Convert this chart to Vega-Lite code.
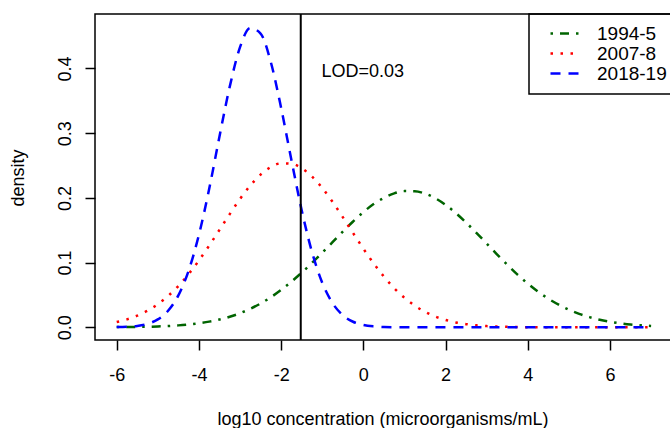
{
  "$schema": "https://vega.github.io/schema/vega-lite/v6.json",
  "width": 577,
  "height": 326,
  "padding": {"left": 95, "top": 14, "right": -2, "bottom": 88},
  "autosize": {"type": "none"},
  "background": "white",
  "config": {
    "font": "Liberation Sans",
    "view": {"stroke": "black", "strokeWidth": 1.5},
    "axis": {
      "domain": false,
      "grid": false,
      "tickColor": "black",
      "tickWidth": 1.5,
      "tickSize": 10,
      "labelFontSize": 18,
      "labelColor": "black",
      "titleFontSize": 18,
      "titleFontWeight": "normal",
      "titleColor": "black"
    },
    "legend": {
      "orient": "none",
      "legendX": 434,
      "legendY": 0,
      "strokeColor": "black",
      "strokeWidth": 1.5,
      "padding": 10,
      "symbolOffset": 17,
      "symbolType": "M-3,0H3",
      "symbolSize": 100,
      "symbolStrokeWidth": 2.5,
      "labelFontSize": 19,
      "labelColor": "black",
      "labelOffset": 22,
      "rowPadding": -2
    }
  },
  "data": {
    "values": [
      {"x": -6, "density": 0.0003, "series": "1994-5"},
      {"x": -5.75, "density": 0.0004, "series": "1994-5"},
      {"x": -5.5, "density": 0.0006, "series": "1994-5"},
      {"x": -5.25, "density": 0.0009, "series": "1994-5"},
      {"x": -5, "density": 0.0013, "series": "1994-5"},
      {"x": -4.75, "density": 0.002, "series": "1994-5"},
      {"x": -4.5, "density": 0.003, "series": "1994-5"},
      {"x": -4.25, "density": 0.0044, "series": "1994-5"},
      {"x": -4, "density": 0.0063, "series": "1994-5"},
      {"x": -3.75, "density": 0.0088, "series": "1994-5"},
      {"x": -3.5, "density": 0.012, "series": "1994-5"},
      {"x": -3.25, "density": 0.0163, "series": "1994-5"},
      {"x": -3, "density": 0.0218, "series": "1994-5"},
      {"x": -2.75, "density": 0.0286, "series": "1994-5"},
      {"x": -2.5, "density": 0.0368, "series": "1994-5"},
      {"x": -2.25, "density": 0.0465, "series": "1994-5"},
      {"x": -2, "density": 0.0578, "series": "1994-5"},
      {"x": -1.75, "density": 0.0705, "series": "1994-5"},
      {"x": -1.5, "density": 0.0845, "series": "1994-5"},
      {"x": -1.25, "density": 0.0995, "series": "1994-5"},
      {"x": -1, "density": 0.1152, "series": "1994-5"},
      {"x": -0.75, "density": 0.1315, "series": "1994-5"},
      {"x": -0.5, "density": 0.148, "series": "1994-5"},
      {"x": -0.25, "density": 0.1635, "series": "1994-5"},
      {"x": 0, "density": 0.178, "series": "1994-5"},
      {"x": 0.25, "density": 0.1905, "series": "1994-5"},
      {"x": 0.5, "density": 0.2, "series": "1994-5"},
      {"x": 0.75, "density": 0.207, "series": "1994-5"},
      {"x": 1, "density": 0.2105, "series": "1994-5"},
      {"x": 1.25, "density": 0.2103, "series": "1994-5"},
      {"x": 1.5, "density": 0.2066, "series": "1994-5"},
      {"x": 1.75, "density": 0.1995, "series": "1994-5"},
      {"x": 2, "density": 0.1893, "series": "1994-5"},
      {"x": 2.25, "density": 0.1765, "series": "1994-5"},
      {"x": 2.5, "density": 0.1618, "series": "1994-5"},
      {"x": 2.75, "density": 0.146, "series": "1994-5"},
      {"x": 3, "density": 0.1295, "series": "1994-5"},
      {"x": 3.25, "density": 0.1128, "series": "1994-5"},
      {"x": 3.5, "density": 0.0968, "series": "1994-5"},
      {"x": 3.75, "density": 0.0815, "series": "1994-5"},
      {"x": 4, "density": 0.0675, "series": "1994-5"},
      {"x": 4.25, "density": 0.055, "series": "1994-5"},
      {"x": 4.5, "density": 0.0442, "series": "1994-5"},
      {"x": 4.75, "density": 0.035, "series": "1994-5"},
      {"x": 5, "density": 0.0272, "series": "1994-5"},
      {"x": 5.25, "density": 0.0208, "series": "1994-5"},
      {"x": 5.5, "density": 0.0157, "series": "1994-5"},
      {"x": 5.75, "density": 0.0117, "series": "1994-5"},
      {"x": 6, "density": 0.0086, "series": "1994-5"},
      {"x": 6.25, "density": 0.0062, "series": "1994-5"},
      {"x": 6.5, "density": 0.0044, "series": "1994-5"},
      {"x": 6.75, "density": 0.0031, "series": "1994-5"},
      {"x": 7, "density": 0.0021, "series": "1994-5"},

      {"x": -6, "density": 0.0082, "series": "2007-8"},
      {"x": -5.75, "density": 0.0123, "series": "2007-8"},
      {"x": -5.5, "density": 0.018, "series": "2007-8"},
      {"x": -5.25, "density": 0.0257, "series": "2007-8"},
      {"x": -5, "density": 0.0357, "series": "2007-8"},
      {"x": -4.75, "density": 0.0484, "series": "2007-8"},
      {"x": -4.5, "density": 0.0639, "series": "2007-8"},
      {"x": -4.25, "density": 0.0823, "series": "2007-8"},
      {"x": -4, "density": 0.1033, "series": "2007-8"},
      {"x": -3.75, "density": 0.1263, "series": "2007-8"},
      {"x": -3.5, "density": 0.1506, "series": "2007-8"},
      {"x": -3.25, "density": 0.175, "series": "2007-8"},
      {"x": -3, "density": 0.1984, "series": "2007-8"},
      {"x": -2.75, "density": 0.2192, "series": "2007-8"},
      {"x": -2.5, "density": 0.236, "series": "2007-8"},
      {"x": -2.25, "density": 0.2477, "series": "2007-8"},
      {"x": -2, "density": 0.2535, "series": "2007-8"},
      {"x": -1.75, "density": 0.2528, "series": "2007-8"},
      {"x": -1.5, "density": 0.2458, "series": "2007-8"},
      {"x": -1.25, "density": 0.233, "series": "2007-8"},
      {"x": -1, "density": 0.2153, "series": "2007-8"},
      {"x": -0.75, "density": 0.1939, "series": "2007-8"},
      {"x": -0.5, "density": 0.1702, "series": "2007-8"},
      {"x": -0.25, "density": 0.1457, "series": "2007-8"},
      {"x": 0, "density": 0.1216, "series": "2007-8"},
      {"x": 0.25, "density": 0.0989, "series": "2007-8"},
      {"x": 0.5, "density": 0.0784, "series": "2007-8"},
      {"x": 0.75, "density": 0.0605, "series": "2007-8"},
      {"x": 1, "density": 0.0456, "series": "2007-8"},
      {"x": 1.25, "density": 0.0335, "series": "2007-8"},
      {"x": 1.5, "density": 0.024, "series": "2007-8"},
      {"x": 1.75, "density": 0.0167, "series": "2007-8"},
      {"x": 2, "density": 0.0114, "series": "2007-8"},
      {"x": 2.25, "density": 0.0075, "series": "2007-8"},
      {"x": 2.5, "density": 0.0049, "series": "2007-8"},
      {"x": 2.75, "density": 0.0031, "series": "2007-8"},
      {"x": 3, "density": 0.0019, "series": "2007-8"},
      {"x": 3.25, "density": 0.0011, "series": "2007-8"},
      {"x": 3.5, "density": 0.0007, "series": "2007-8"},
      {"x": 3.75, "density": 0.0004, "series": "2007-8"},
      {"x": 4, "density": 0.0002, "series": "2007-8"},
      {"x": 4.5, "density": 0.0001, "series": "2007-8"},
      {"x": 5, "density": 0, "series": "2007-8"},
      {"x": 5.5, "density": 0, "series": "2007-8"},
      {"x": 6, "density": 0, "series": "2007-8"},
      {"x": 6.5, "density": 0, "series": "2007-8"},
      {"x": 7, "density": 0, "series": "2007-8"},

      {"x": -6, "density": 0.0003, "series": "2018-19"},
      {"x": -5.75, "density": 0.0008, "series": "2018-19"},
      {"x": -5.5, "density": 0.0021, "series": "2018-19"},
      {"x": -5.25, "density": 0.0053, "series": "2018-19"},
      {"x": -5, "density": 0.0122, "series": "2018-19"},
      {"x": -4.75, "density": 0.0256, "series": "2018-19"},
      {"x": -4.5, "density": 0.0494, "series": "2018-19"},
      {"x": -4.25, "density": 0.0877, "series": "2018-19"},
      {"x": -4, "density": 0.143, "series": "2018-19"},
      {"x": -3.75, "density": 0.214, "series": "2018-19"},
      {"x": -3.5, "density": 0.295, "series": "2018-19"},
      {"x": -3.25, "density": 0.372, "series": "2018-19"},
      {"x": -3, "density": 0.433, "series": "2018-19"},
      {"x": -2.75, "density": 0.4625, "series": "2018-19"},
      {"x": -2.5, "density": 0.454, "series": "2018-19"},
      {"x": -2.25, "density": 0.4095, "series": "2018-19"},
      {"x": -2, "density": 0.339, "series": "2018-19"},
      {"x": -1.75, "density": 0.2585, "series": "2018-19"},
      {"x": -1.5, "density": 0.181, "series": "2018-19"},
      {"x": -1.25, "density": 0.1164, "series": "2018-19"},
      {"x": -1, "density": 0.0689, "series": "2018-19"},
      {"x": -0.75, "density": 0.0374, "series": "2018-19"},
      {"x": -0.5, "density": 0.0187, "series": "2018-19"},
      {"x": -0.25, "density": 0.0086, "series": "2018-19"},
      {"x": 0, "density": 0.0036, "series": "2018-19"},
      {"x": 0.25, "density": 0.0014, "series": "2018-19"},
      {"x": 0.5, "density": 0.0005, "series": "2018-19"},
      {"x": 0.75, "density": 0.0002, "series": "2018-19"},
      {"x": 1, "density": 0.0001, "series": "2018-19"},
      {"x": 1.5, "density": 0, "series": "2018-19"},
      {"x": 2, "density": 0, "series": "2018-19"},
      {"x": 3, "density": 0, "series": "2018-19"},
      {"x": 4, "density": 0, "series": "2018-19"},
      {"x": 5, "density": 0, "series": "2018-19"},
      {"x": 6, "density": 0, "series": "2018-19"},
      {"x": 7, "density": 0, "series": "2018-19"}
    ]
  },
  "layer": [
    {
      "mark": {"type": "line", "strokeWidth": 2.5, "interpolate": "monotone", "clip": true},
      "encoding": {
        "x": {
          "field": "x", "type": "quantitative",
          "scale": {"domain": [-6.528, 7.508], "nice": false, "zero": false},
          "axis": {
            "values": [-6, -4, -2, 0, 2, 4, 6],
            "labelExpr": "toString(datum.value)",
            "labelPadding": 16.5,
            "title": "log10 concentration (microorganisms/mL)",
            "titleBaseline": "alphabetic",
            "titleAlign": "center",
            "titleAnchor": "start",
            "titleX": 287.5,
            "titleY": 84
          }
        },
        "y": {
          "field": "density", "type": "quantitative",
          "scale": {"domain": [-0.0196, 0.4842], "nice": false, "zero": false},
          "axis": {
            "values": [0, 0.1, 0.2, 0.3, 0.4],
            "format": ".1f",
            "labelAngle": 270,
            "labelAlign": "center",
            "labelBaseline": "alphabetic",
            "labelPadding": 14.3,
            "title": "density",
            "titleAngle": 270,
            "titleBaseline": "alphabetic",
            "titleAlign": "center",
            "titleAnchor": "start",
            "titleX": -71.5,
            "titleY": 163.5
          }
        },
        "color": {
          "field": "series", "type": "nominal",
          "scale": {"domain": ["1994-5", "2007-8", "2018-19"], "range": ["#006400", "#FF0000", "#0000FF"]},
          "legend": {"title": null}
        },
        "strokeDash": {
          "field": "series", "type": "nominal",
          "scale": {"domain": ["1994-5", "2007-8", "2018-19"], "range": [[2.5, 7, 9, 7], [2.5, 7.5], [10, 8]]},
          "legend": {"title": null}
        }
      }
    },
    {
      "data": {"values": [{}]},
      "mark": {"type": "rule", "color": "black", "strokeWidth": 2},
      "encoding": {"x": {"datum": -1.523, "type": "quantitative"}}
    },
    {
      "data": {"values": [{}]},
      "mark": {"type": "text", "text": "LOD=0.03", "align": "left", "baseline": "alphabetic", "fontSize": 18, "color": "black"},
      "encoding": {
        "x": {"datum": -1.02, "type": "quantitative"},
        "y": {"datum": 0.387, "type": "quantitative"}
      }
    }
  ]
}
